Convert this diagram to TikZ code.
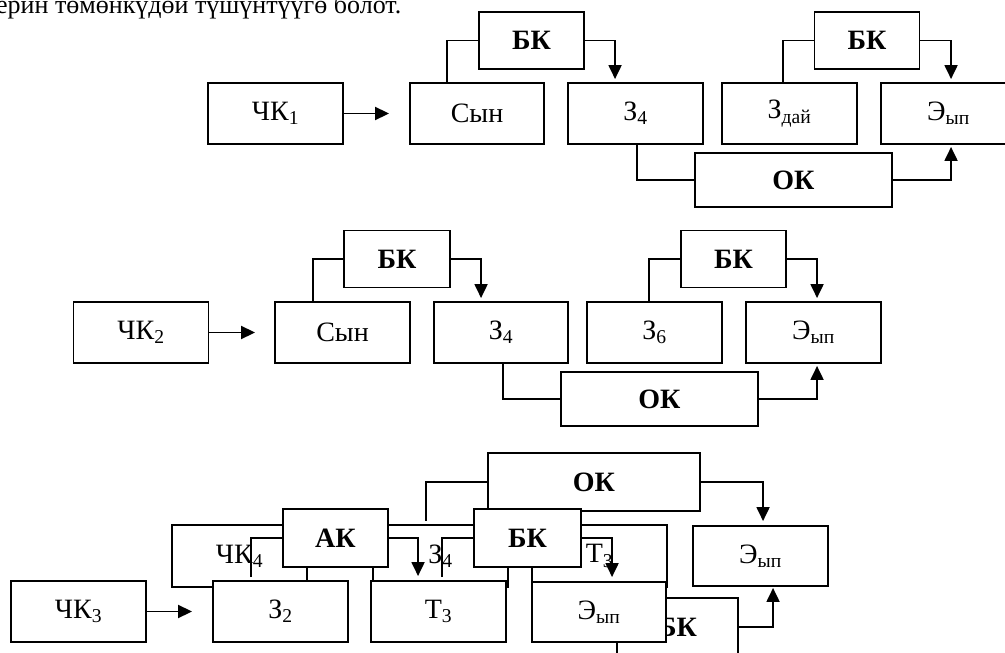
\documentclass[tikz,border=0pt]{standalone}
\usepackage{fontspec}
\setmainfont{Liberation Serif}
\usetikzlibrary{arrows.meta}
\tikzset{
	blk/.style={draw,fill=white,line width=1.9pt,inner sep=0pt,minimum width=135pt,minimum height=61pt,font=\fontsize{28}{34}\selectfont},
	lbl/.style={blk,minimum width=105pt,minimum height=57pt,font=\fontsize{28}{34}\selectfont\bfseries},
	conn/.style={line width=1.9pt},
	arr/.style={conn,-{Triangle[length=14pt,width=13pt]}}
}
\begin{document}
\begin{tikzpicture}[x=1pt,y=-1pt]
			\useasboundingbox (0,0) rectangle (1005,653);
			\clip (0,0) rectangle (1005,653);
			\node[anchor=base west,inner sep=0pt,font=\fontsize{26}{32}\selectfont] (Txt) at (-4,13) {ерин төмөнкүдөй түшүнтүүгө болот.};
			% first scheme
			\node[blk] (CK1) at (275.5,113.5) {ЧК\textsubscript{1}};
			\node[blk,minimum width=134pt] (Syn1) at (477,113.5) {Сын};
			\node[blk] (Z41) at (635.5,113.5) {З\textsubscript{4}};
			\node[blk] (Zd1) at (789.5,113.5) {З\textsubscript{дай}};
			\node[blk] (E1) at (948.5,113.5) {Э\textsubscript{ып}};
			\node[lbl] (BK1a) at (531.5,40.5) {БК};
			\node[lbl] (BK1b) at (867,40.5) {БК};
			\node[lbl,minimum width=197pt,minimum height=54pt] (OK1) at (793.5,180) {ОК};
			\draw[arr,shorten >=20pt] (CK1.east) -- (Syn1.west);
			\draw[conn] ([xshift=38pt]Syn1.north west) |- (BK1a.west);
			\draw[arr,shorten >=3pt] (BK1a.east) -| ([xshift=48pt]Z41.north west);
			\draw[conn] ([xshift=62pt]Zd1.north west) |- (BK1b.west);
			\draw[arr,shorten >=3pt] (BK1b.east) -| ([xshift=71pt]E1.north west);
			\draw[conn] ([xshift=70pt]Z41.south west) |- (OK1.west);
			\draw[arr,shorten >=2pt] (OK1.east) -| ([xshift=71pt]E1.south west);
			% second scheme
			\node[blk] (CK2) at (141,332.5) {ЧК\textsubscript{2}};
			\node[blk] (Syn2) at (342.5,332.5) {Сын};
			\node[blk,minimum width=134pt] (Z42) at (501,332.5) {З\textsubscript{4}};
			\node[blk] (Z6) at (654.5,332.5) {З\textsubscript{6}};
			\node[blk] (E2) at (813.5,332.5) {Э\textsubscript{ып}};
			\node[lbl,minimum width=106pt] (BK2a) at (397,259) {БК};
			\node[lbl] (BK2b) at (733.5,259) {БК};
			\node[lbl,minimum width=197pt,minimum height=54pt] (OK2) at (659.5,399) {ОК};
			\draw[arr,shorten >=19pt] (CK2.east) -- (Syn2.west);
			\draw[conn] ([xshift=39pt]Syn2.north west) |- (BK2a.west);
			\draw[arr,shorten >=3pt] (BK2a.east) -| ([xshift=48pt]Z42.north west);
			\draw[conn] ([xshift=63pt]Z6.north west) |- (BK2b.west);
			\draw[arr,shorten >=3pt] (BK2b.east) -| ([xshift=72pt]E2.north west);
			\draw[conn] ([xshift=70pt]Z42.south west) |- (OK2.west);
			\draw[arr,shorten >=2pt] (OK2.east) -| ([xshift=72pt]E2.south west);
			% third scheme
			\node[blk,minimum height=62pt] (CK4) at (239.5,556) {ЧК\textsubscript{4}};
			\node[blk,minimum height=62pt] (Z43) at (440.5,556) {З\textsubscript{4}};
			\node[blk,minimum height=62pt] (T3b) at (599.5,556) {Т\textsubscript{3}};
			\node[lbl,minimum width=212pt,minimum height=58pt] (OK3) at (594,482) {ОК};
			\node[blk] (CK3) at (78.5,611.5) {ЧК\textsubscript{3}};
			\node[blk] (Z2) at (280.5,611.5) {З\textsubscript{2}};
			\node[blk] (T3) at (438.5,611.5) {Т\textsubscript{3}};
			\node[lbl,minimum width=121pt,minimum height=58pt] (BK4) at (677.5,627) {БК};
			\node[blk,minimum width=134pt,minimum height=60pt] (E3) at (599,612) {Э\textsubscript{ып}};
			\node[lbl,minimum height=58pt] (AK) at (335.5,538) {АК};
			\node[lbl,minimum width=107pt,minimum height=58pt] (BK3) at (527.5,538) {БК};
			\node[blk,minimum height=60pt] (E4) at (760.5,556) {Э\textsubscript{ып}};
			\draw[arr,shorten >=20pt] (CK3.east) -- (Z2.west);
			\draw[conn] ([xshift=39pt,yshift=3pt]Z2.north west) |- (AK.west);
			\draw[arr,shorten >=4pt] (AK.east) -| ([xshift=48pt]T3.north west);
			\draw[conn] ([xshift=72pt,yshift=3pt]T3.north west) |- (BK3.west);
			\draw[arr,shorten >=4pt] (BK3.east) -| ([xshift=81pt]E3.north west);
			\draw[conn] (OK3.west) -| ([xshift=54pt,yshift=3pt]Z43.north west);
			\draw[arr,shorten >=4pt] (OK3.east) -| ([xshift=71pt]E4.north west);
			\draw[arr,shorten >=1pt] (BK4.east) -| ([xshift=81pt]E4.south west);
		\end{tikzpicture}
\end{document}
